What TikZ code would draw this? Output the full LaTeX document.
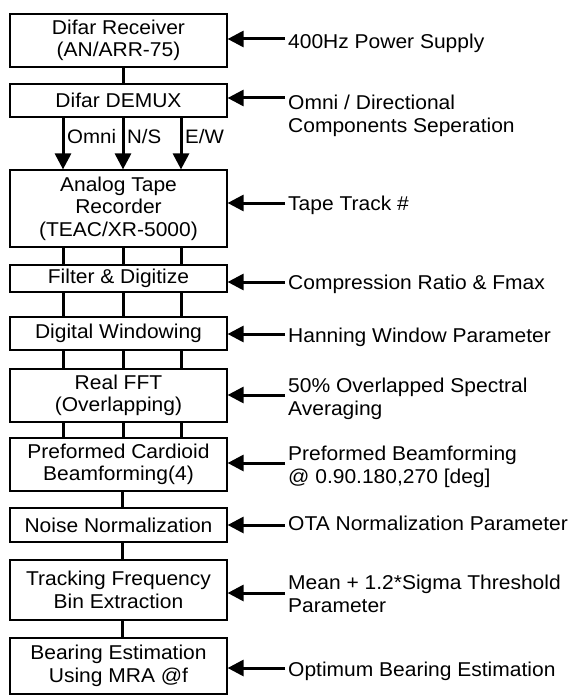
\documentclass[tikz,border=0pt]{standalone}
\usepackage{fontspec}
\setmainfont[FakeStretch=1.05]{Liberation Sans}
\usetikzlibrary{arrows.meta}
\begin{document}
\begin{tikzpicture}[x=1pt,y=-1pt,
  box/.style={draw, line width=1.2pt, minimum width=217pt, inner sep=0pt, align=center,
     font=\fontsize{20}{22.5}\selectfont},
  lab/.style={anchor=west, inner sep=0pt, align=left, font=\fontsize{20}{23}\selectfont},
  conn/.style={line width=3pt},
  arr/.style={line width=3pt, -{Triangle[length=16pt,width=16pt]}},
  small/.style={inner sep=0pt, font=\fontsize{19.5}{22}\selectfont}]
\useasboundingbox (0,0) rectangle (569,695);
\coordinate (xa) at (63,0);
\coordinate (xb) at (123,0);
\coordinate (xc) at (181,0);
% boxes
\node[box, minimum height=53pt] (b1) at (118.5,40.5) {Difar Receiver\\(AN/ARR-75)};
\node[box, minimum height=33pt] (b2) at (118.5,100.5) {Difar DEMUX};
\node[box, minimum height=77pt] (b3) at (118.5,208.5) {Analog Tape\\Recorder\\(TEAC/XR-5000)};
\node[box, minimum height=27pt] (b4) at (118.5,278.5) {Filter \& Digitize};
\node[box, minimum height=33pt] (b5) at (118.5,333.5) {Digital Windowing};
\node[box, minimum height=53pt] (b6) at (118.5,395.5) {Real FFT\\(Overlapping)};
\node[box, minimum height=53pt] (b7) at (118.5,464.5) {Preformed Cardioid\\Beamforming(4)};
\node[box, minimum height=34pt] (b8) at (118.5,525) {Noise Normalization};
\node[box, minimum height=60pt] (b9) at (118.5,590) {Tracking Frequency\\Bin Extraction};
\node[box, minimum height=56pt] (b10) at (118.5,666) {Bearing Estimation\\Using MRA @f};
% labels
\node[lab] (l1) at (288,43) {400Hz Power Supply};
\node[lab] (l2) at (288,115.5) {Omni / Directional\\Components Seperation};
\node[lab] (l3) at (288,205) {Tape Track \#};
\node[lab] (l4) at (288,284) {Compression Ratio \& Fmax};
\node[lab] (l5) at (288,337) {Hanning Window Parameter};
\node[lab] (l6) at (288,398.5) {50\% Overlapped Spectral\\Averaging};
\node[lab] (l7) at (288,467) {Preformed Beamforming\\@ 0.90.180,270 [deg]};
\node[lab] (l8) at (288,523) {OTA Normalization Parameter};
\node[lab] (l9) at (288,593.5) {Mean + 1.2*Sigma Threshold\\Parameter};
\node[lab] (l10) at (288,671) {Optimum Bearing Estimation};
% channel labels
\node[small, anchor=west] (t1) at (67,137) {Omni};
\node[small, anchor=west] (t2) at (127,137) {N/S};
\node[small, anchor=west] (t3) at (185,137) {E/W};
% vertical connectors
\draw[conn] (b1.south -| xb) -- (b2.north -| xb);
\foreach \c in {xa,xb,xc} {
  \draw[arr] (b2.south -| \c) -- (b3.north -| \c);
  \draw[conn] (b3.south -| \c) -- (b4.north -| \c);
  \draw[conn] (b4.south -| \c) -- (b5.north -| \c);
  \draw[conn] (b5.south -| \c) -- (b6.north -| \c);
  \draw[conn] (b6.south -| \c) -- (b7.north -| \c);
}
\draw[conn] (b7.south -| 122,0) -- (b8.north -| 122,0);
\draw[conn] (b8.south -| 122,0) -- (b9.north -| 122,0);
\draw[conn] (b9.south -| 122,0) -- (b10.north -| 122,0);
% horizontal arrows
\coordinate (ax) at (285,0);
\draw[arr] (ax |- 0,39) -- (b1.east |- 0,39);
\draw[arr] (ax |- 0,98) -- (b2.east |- 0,98);
\draw[arr] (ax |- 0,203) -- (b3.east |- 0,203);
\draw[arr] (ax |- 0,282) -- (b4.east |- 0,282);
\draw[arr] (ax |- 0,334) -- (b5.east |- 0,334);
\draw[arr] (ax |- 0,395) -- (b6.east |- 0,395);
\draw[arr] (ax |- 0,463) -- (b7.east |- 0,463);
\draw[arr] (ax |- 0,525) -- (b8.east |- 0,525);
\draw[arr] (ax |- 0,593) -- (b9.east |- 0,593);
\draw[arr] (ax |- 0,668) -- (b10.east |- 0,668);
\end{tikzpicture}
\end{document}
